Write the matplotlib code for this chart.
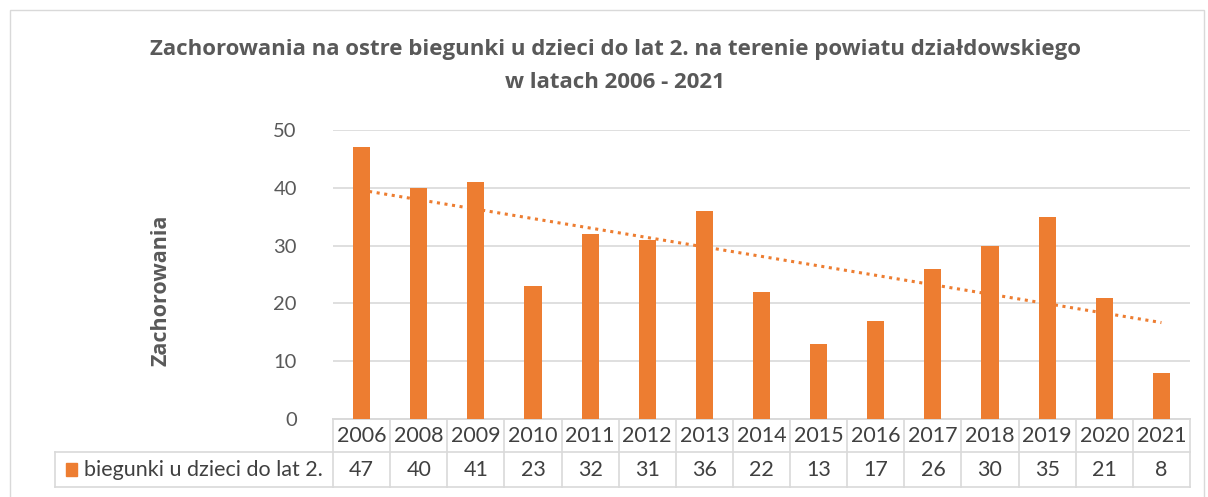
import matplotlib.pyplot as plt
import numpy as np
from matplotlib.patches import Rectangle

plt.rcParams['font.family'] = ['Lato', 'DejaVu Sans']

years = ['2006', '2008', '2009', '2010', '2011', '2012', '2013', '2014',
         '2015', '2016', '2017', '2018', '2019', '2020', '2021']
cases = [47, 40, 41, 23, 32, 31, 36, 22, 13, 17, 26, 30, 35, 21, 8]
series_name = 'biegunki u dzieci do lat 2.'
title_lines = ['Zachorowania na ostre biegunki u dzieci do lat 2. na terenie powiatu działdowskiego',
               'w latach 2006 - 2021']

bar_color = '#ed7d31'
grid_color = '#d9d9d9'
text_color = '#595959'

W, H = 1208, 497
fig = plt.figure(figsize=(W / 100, H / 100), dpi=100)
fig.patch.set_facecolor('white')

# chart outer border
fig.add_artist(Rectangle((10 / W, -0.01), 1194 / W, 1 - 10 / H + 0.01,
                         transform=fig.transFigure, fill=False,
                         edgecolor='#d9d9d9', linewidth=1))

left, right, bottom, top = 333, 1190, 419, 130
ax = fig.add_axes([left / W, 1 - bottom / H, (right - left) / W, (bottom - top) / H])

x = np.arange(len(years))
ax.bar(x, cases, width=0.3, color=bar_color, zorder=3)

# linear trend line
coef = np.polyfit(x + 1, cases, 1)
trend = np.polyval(coef, x + 1)
ax.plot(x, trend, color=bar_color, linestyle=(0, (1, 1.5)), linewidth=2.2, zorder=4)

ax.set_xlim(-0.5, len(years) - 0.5)
ax.set_ylim(0, 50)
ax.set_yticks(range(0, 51, 10))
ax.yaxis.grid(True, color=grid_color, linewidth=1.2, zorder=0)
ax.set_xticks([])
for s in ['top', 'right', 'left']:
    ax.spines[s].set_visible(False)
ax.spines['bottom'].set_color(grid_color)
ax.spines['bottom'].set_linewidth(1.2)
ax.tick_params(axis='y', length=0, pad=26, labelsize=14.5, labelcolor=text_color)

ax.set_ylabel('Zachorowania', fontsize=15.5, fontweight='bold', color=text_color,
              family='Open Sans')
ax.yaxis.set_label_coords(-0.188, 0.446)

# data table below the axes
ph = bottom - top
y_row1 = (bottom - 452) / ph
y_row2 = (bottom - 487) / ph
x_leg = (55 - left) / (right - left)
line_kw = dict(color=grid_color, linewidth=1.2, clip_on=False, transform=ax.transAxes)
ax.plot([0, 1], [0, 0], **line_kw)
ax.plot([x_leg, 1], [y_row1, y_row1], **line_kw)
ax.plot([x_leg, 1], [y_row2, y_row2], **line_kw)
ax.plot([x_leg, x_leg], [y_row1, y_row2], **line_kw)
n = len(years)
for i in range(n + 1):
    xf = i / n
    ax.plot([xf, xf], [0, y_row2], **line_kw)
for i, (yr, v) in enumerate(zip(years, cases)):
    xf = (i + 0.5) / n
    ax.text(xf, y_row1 / 2, yr, transform=ax.transAxes, ha='center', va='center',
            fontsize=15.5, color='#404040')
    ax.text(xf, (y_row1 + y_row2) / 2, str(v), transform=ax.transAxes, ha='center',
            va='center', fontsize=15.5, color='#404040')
ax.add_patch(Rectangle(((66 - left) / (right - left), (y_row1 + y_row2) / 2 - 0.024),
                       11 / (right - left), 0.048, transform=ax.transAxes,
                       color=bar_color, clip_on=False))
ax.text((84 - left) / (right - left), (y_row1 + y_row2) / 2, series_name,
        transform=ax.transAxes, ha='left', va='center', fontsize=15.5, color='#404040')

fig.text(615 / W, 1 - 50 / H, title_lines[0], ha='center', va='center', fontsize=16,
         fontweight='bold', color=text_color, family='Open Sans')
fig.text(615 / W, 1 - 82 / H, title_lines[1], ha='center', va='center', fontsize=16,
         fontweight='bold', color=text_color, family='Open Sans')

fig.savefig('out.png', dpi=100)
